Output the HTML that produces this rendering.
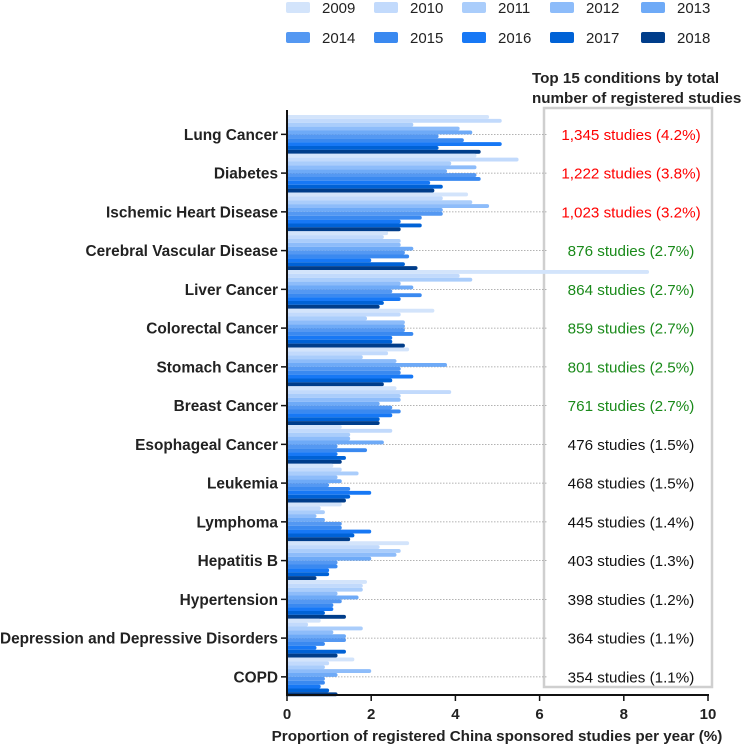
<!DOCTYPE html><html><head><meta charset="utf-8"><style>
body{margin:0;background:#fff;font-family:"Liberation Sans",Arial,sans-serif}
</style></head><body>
<svg id="c" width="742" height="746" xmlns="http://www.w3.org/2000/svg" font-family="Liberation Sans, Arial, sans-serif"></svg>
<script>
const categories=["Lung Cancer","Diabetes","Ischemic Heart Disease","Cerebral Vascular Disease","Liver Cancer","Colorectal Cancer","Stomach Cancer","Breast Cancer","Esophageal Cancer","Leukemia","Lymphoma","Hepatitis B","Hypertension","Depression and Depressive Disorders","COPD"];
const years=["2009","2010","2011","2012","2013","2014","2015","2016","2017","2018"];
const lungCancer=[4.8,5.1,3.0,4.1,4.4,3.6,4.2,5.1,3.6,4.6];
const diabetes=[4.5,5.5,3.9,4.5,3.8,4.5,4.6,3.4,3.7,3.5];
const ischemic=[4.3,3.7,4.4,4.8,3.7,3.7,3.2,2.7,3.2,2.7];
const cerebral=[2.4,2.3,2.7,2.7,3.0,2.8,2.9,2.0,2.8,3.1];
const liver=[8.6,4.1,4.4,2.7,3.0,2.5,3.2,2.7,2.3,2.2];
const colorectal=[3.5,2.7,1.9,2.8,2.8,2.8,3.0,2.5,2.5,2.8];
const stomach=[2.9,2.4,1.8,2.6,3.8,2.7,2.7,3.0,2.5,2.3];
const breast=[2.6,3.9,2.7,2.7,2.2,2.5,2.7,2.5,2.2,2.2];
const esophageal=[1.3,2.5,1.5,1.5,2.3,1.2,1.9,1.2,1.4,1.3];
const leukemia=[1.1,1.3,1.7,1.2,1.3,1.0,1.5,2.0,1.5,1.4];
const lymphoma=[1.3,0.8,0.9,0.7,0.9,1.3,1.3,2.0,1.6,1.5];
const hepatitisB=[2.9,2.2,2.7,2.6,2.0,1.2,1.2,1.0,1.0,0.7];
const hypertension=[1.9,1.8,1.8,1.2,1.7,1.3,1.1,1.1,0.9,1.4];
const depression=[0.8,0.5,1.8,1.1,1.4,1.4,0.9,0.7,1.4,1.2];
const copd=[1.6,1.0,0.9,2.0,1.2,0.9,0.9,0.8,1.0,1.2];
const seriesByCat=[lungCancer,diabetes,ischemic,cerebral,liver,colorectal,stomach,breast,esophageal,leukemia,lymphoma,hepatitisB,hypertension,depression,copd];
const annotations=["1,345 studies (4.2%)","1,222 studies (3.8%)","1,023 studies (3.2%)","876 studies (2.7%)","864 studies (2.7%)","859 studies (2.7%)","801 studies (2.5%)","761 studies (2.7%)","476 studies (1.5%)","468 studies (1.5%)","445 studies (1.4%)","403 studies (1.3%)","398 studies (1.2%)","364 studies (1.1%)","354 studies (1.1%)"];
const annColors=["#f00","#f00","#f00","#1a8a1a","#1a8a1a","#1a8a1a","#1a8a1a","#1a8a1a","#111","#111","#111","#111","#111","#111","#111"];
const xTicks=[0,2,4,6,8,10];
const colors=["#d3e4fb","#c2dafc","#aacdfb","#8dbcfa","#6eaaf7","#5498f2","#3a89f0","#1778f5","#0062d6","#003d8a"];
const svg=document.getElementById('c');const NS="http://www.w3.org/2000/svg";
function mk(t,a,p){const e=document.createElementNS(NS,t);for(const k in a)e.setAttribute(k,a[k]);(p||svg).appendChild(e);return e;}
const x0=287,x1=708;const X=v=>x0+(x1-x0)*v/10;
const gTop=115,gStep=38.75,bh=3.87;
const Yc=i=>gTop+gStep*i+bh*5;
const box=mk('rect',{x:544,y:108,width:168,height:579,fill:'none',stroke:'#cfcfcf','stroke-width':2.5});

categories.forEach((c,i)=>{
  const y=Yc(i);
  const gl=mk('line',{x1:x0,x2:548,y1:y,y2:y,stroke:'#999','stroke-dasharray':'1.5,1.5','stroke-width':0.7});
  
  seriesByCat[i].forEach((v,j)=>{
    const w=X(v)-x0;const yy=gTop+gStep*i+bh*j;
    const p=mk('path',{d:`M${x0},${yy}h${Math.max(w-1.9,0)}a1.9,1.9 0 0 1 0,${bh}h${-Math.max(w-1.9,0)}z`,fill:colors[j]});
    
  });
  const t=mk('text',{x:278,y:y+5.5,'text-anchor':'end','font-size':15.4,'font-weight':'bold',fill:'#222'});t.textContent=c;
  
  const tk=mk('line',{x1:x0-6,x2:x0,y1:y,y2:y,stroke:'#111','stroke-width':1.5});
  
  const a=mk('text',{x:631,y:y+5.5,'text-anchor':'middle','font-size':15.2,fill:annColors[i]});a.textContent=annotations[i];
  
});
const ya=mk('line',{x1:x0,x2:x0,y1:110,y2:695,stroke:'#111','stroke-width':2});

const xa=mk('line',{x1:x0-1,x2:x1+1,y1:695,y2:695,stroke:'#111','stroke-width':2});

xTicks.forEach(v=>{
  const l=mk('line',{x1:X(v),x2:X(v),y1:695,y2:701,stroke:'#111','stroke-width':1.5});
  
  const t=mk('text',{x:X(v),y:719,'text-anchor':'middle','font-size':15,'font-weight':'bold',fill:'#222'});t.textContent=v;
  
});
const xt=mk('text',{x:497,y:741,'text-anchor':'middle','font-size':15.2,'font-weight':'bold',fill:'#222'});xt.textContent="Proportion of registered China sponsored studies per year (%)";

const tt1=mk('text',{x:532,y:83,'font-size':15.2,'font-weight':'bold',fill:'#222'});tt1.textContent="Top 15 conditions by total";

const tt2=mk('text',{x:532,y:103,'font-size':15.2,'font-weight':'bold',fill:'#222'});tt2.textContent="number of registered studies";

const lx=[286,374,462,550,641];
years.forEach((yr,j)=>{
  const cx=lx[j%5],cy=j<5?2:32;
  const r=mk('rect',{x:cx,y:cy,width:24,height:11,rx:2,fill:colors[j]});
  
  const t=mk('text',{x:cx+36,y:cy+11,'font-size':15,fill:'#222'});t.textContent=yr;
  
});
</script></body></html>
